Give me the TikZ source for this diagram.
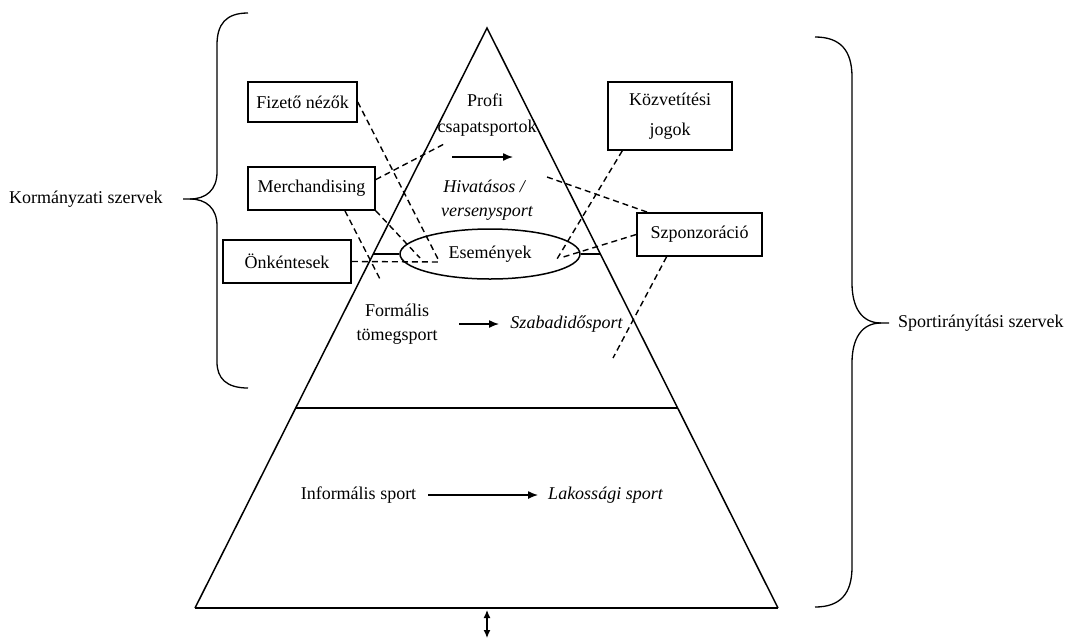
\documentclass[tikz,border=0pt]{standalone}
\usepackage{fontspec}
\setmainfont{Liberation Serif}
\usetikzlibrary{arrows.meta,shapes.geometric,calc}
\begin{document}
\begin{tikzpicture}[x=1pt,y=-1pt,
  every node/.style={font=\fontsize{18}{21}\selectfont, inner sep=0pt},
  box/.style={draw, line width=1.5pt},
  itl/.style={font=\fontsize{18}{21}\selectfont\itshape},
  dsh/.style={line width=1.4pt, dash pattern=on 6pt off 4pt},
  arr/.style={line width=1.4pt, -{Latex[length=10pt,width=8pt]}},
  brc/.style={line width=1.3pt}]
\useasboundingbox (0,0) rectangle (1076,641);

% pyramid
\coordinate (apex) at (487,28);
\coordinate (bl) at (195,608);
\coordinate (br) at (778,608);
\coordinate (ml) at (295.7,408);
\coordinate (mr) at (678.3,408);
\coordinate (tl) at (373.2,254);
\coordinate (tr) at (600.8,254);
\draw[line width=1.5pt, line join=miter] (bl) -- (apex) -- (br);
\draw[line width=2.8pt] (bl) -- (br);
\draw[line width=1.5pt] (ml) -- (mr);

% bottom double arrow
\coordinate (da1) at (487,610);
\coordinate (da2) at (487,638);
\draw[line width=1.3pt, {Latex[length=8pt,width=7pt]}-{Latex[length=8pt,width=7pt]}] (da1) -- (da2);

% boxes
\node[box, minimum width=109pt, minimum height=40pt] (fiz) at (302.5,102) {Fizető nézők};
\node[box, minimum width=127pt, minimum height=43pt] (merch) at (311.5,188.5) {Merchandising};
\node[box, minimum width=128pt, minimum height=43pt] (onk) at (287,261.5) {Önkéntesek};
\node[box, minimum width=124pt, minimum height=68pt, align=center, font=\fontsize{18}{30}\selectfont] (kozv) at (670,116) {Közvetítési\\jogok};
\node[box, minimum width=125pt, minimum height=43pt] (szp) at (699.5,234.5) {Szponzoráció};

% ellipse
\node[draw, ellipse, line width=1.5pt, minimum width=180pt, minimum height=50pt] (ev) at (490,254) {Események};
\draw[line width=1.5pt] (tl) -- (ev.west);
\draw[line width=1.5pt] (ev.east) -- (tr);

% texts in pyramid
\node (profi) at (485,100) {Profi};
\node (csap) at (487,128) {csapatsportok};
\coordinate (a1s) at (452,157);
\coordinate (a1e) at (513,157);
\draw[arr] (a1s) -- (a1e);
\node[itl] (hiv) at (484,186) {Hivatásos /};
\node[itl] (vers) at (487,213) {versenysport};

\node (form) at (397,310) {Formális};
\node (tomeg) at (397,337) {tömegsport};
\node[itl] (szab) at (566.5,324) {Szabadidősport};
\coordinate (a2s) at (459,324);
\coordinate (a2e) at (499,324);
\draw[arr] (a2s) -- (a2e);

\node (inf) at (358.5,495) {Informális sport};
\node[itl] (lak) at (605.5,495) {Lakossági sport};
\draw[arr] ([xshift=12pt]inf.east) -- ([xshift=-10pt]lak.west);

% side labels
\node[anchor=west] (korm) at (9,199) {Kormányzati szervek};
\node[anchor=west] (sport) at (898,323) {Sportirányítási szervek};

% braces
\draw[brc] (248,13) .. controls (226,13) and (217,24) .. (217,45)
  -- (217,172) .. controls (217,190) and (206,199) .. (190,199) -- (183,199);
\draw[brc] (190,199) .. controls (206,199) and (217,208) .. (217,226)
  -- (217,362) .. controls (217,378) and (226,388) .. (248,388);
\draw[brc] (815,37) .. controls (840,37) and (852,50) .. (852,77)
  -- (852,283) .. controls (852,308) and (862,323) .. (881,323) -- (889,323);
\draw[brc] (881,323) .. controls (862,323) and (852,338) .. (852,363)
  -- (852,567) .. controls (852,594) and (840,607) .. (815,607);

% dashed connectors
\coordinate (e1) at (438,259);
\coordinate (e2) at (446,143);
\coordinate (e3) at (420,258);
\coordinate (e4) at (381,281);
\coordinate (e5) at (440,262);
\coordinate (e6) at (547,177);
\coordinate (e7) at (557,259);
\coordinate (e8) at (560,258);
\coordinate (e9) at (613,358);
\draw[dsh] (fiz.east) -- (e1);
\draw[dsh] ($(merch.north east)!0.3!(merch.south east)$) -- (e2);
\draw[dsh] (merch.south east) -- (e3);
\draw[dsh] ($(merch.south west)!0.76!(merch.south east)$) -- (e4);
\draw[dsh] (onk.east) -- (e5);
\draw[dsh] (e6) -- ($(szp.north west)!0.09!(szp.north east)$);
\draw[dsh] ($(kozv.south west)!0.12!(kozv.south east)$) -- (e7);
\draw[dsh] (szp.west) -- (e8);
\draw[dsh] ($(szp.south west)!0.24!(szp.south east)$) -- (e9);
\end{tikzpicture}
\end{document}
